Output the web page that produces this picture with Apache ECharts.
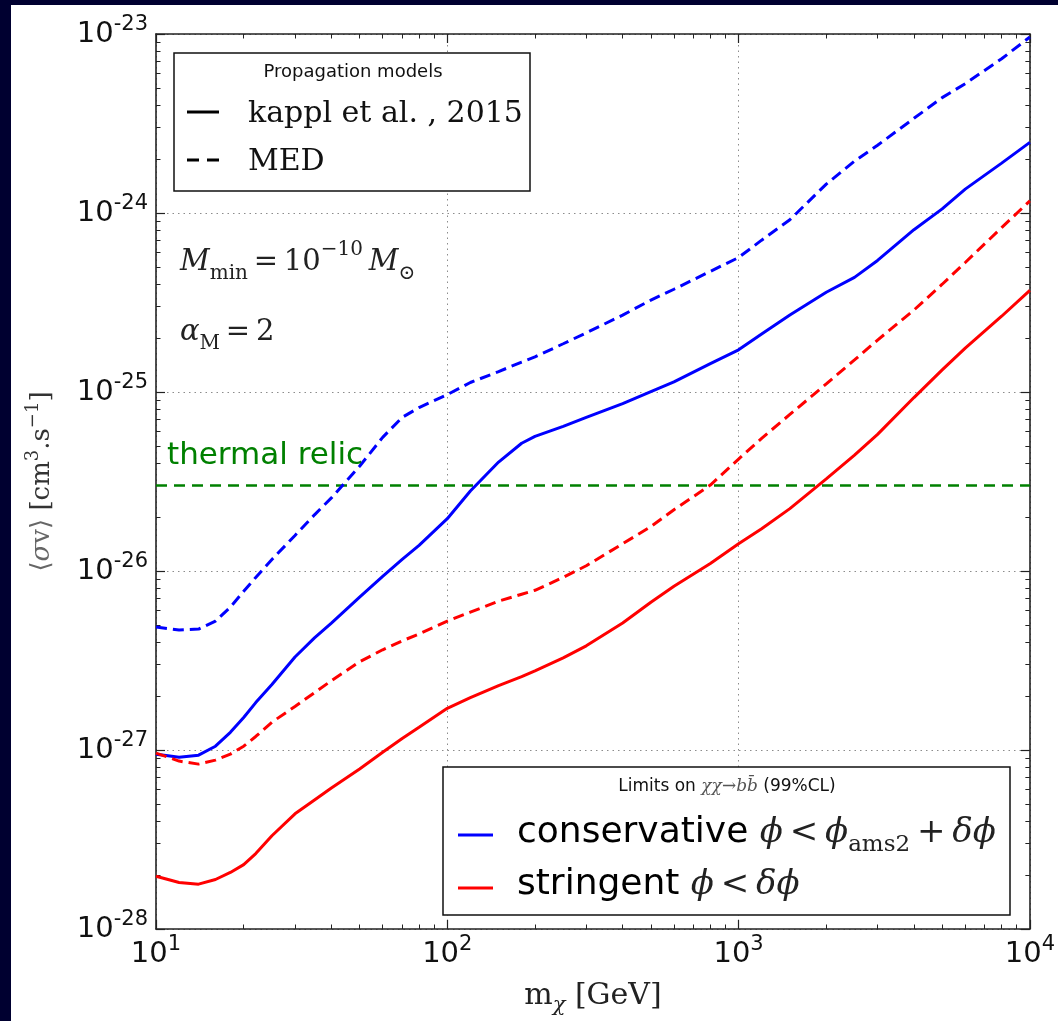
<!DOCTYPE html>
<html>
<head>
<meta charset="utf-8">
<script src="https://cdn.jsdelivr.net/npm/echarts@6/dist/echarts.min.js"></script>
<style>
  html, body { margin: 0; padding: 0; width: 1058px; height: 1021px; overflow: hidden; background: #000030; }
  #chart { position: absolute; left: 11px; top: 5px; width: 1047px; height: 1016px; background: #ffffff; }
</style>
</head>
<body>
<div id="chart"></div>
<script>
// Dark-matter mass grid (GeV)
const masses = [10, 11, 12, 14, 16, 18, 20, 22, 25, 30, 35, 40, 50, 60, 70, 80, 100, 120, 150, 180, 200,
  250, 300, 400, 500, 600, 800, 1000, 1200, 1500, 2000, 2500, 3000, 4000, 5000, 6000, 8000, 10000];

// <σv> upper limits (cm^3 s^-1), chi chi -> b bbar, 99% CL
const conservativeKappl = [9.48e-28, 9.30e-28, 9.12e-28, 9.36e-28, 1.05e-27, 1.255e-27, 1.52e-27, 1.84e-27,
  2.32e-27, 3.31e-27, 4.23e-27, 5.12e-27, 7.14e-27, 9.33e-27, 1.16e-26, 1.39e-26, 1.96e-26, 2.80e-26,
  4.06e-26, 5.17e-26, 5.65e-26, 6.43e-26, 7.21e-26, 8.62e-26, 1.005e-25, 1.14e-25, 1.44e-25, 1.72e-25,
  2.11e-25, 2.69e-25, 3.61e-25, 4.37e-25, 5.43e-25, 8.07e-25, 1.055e-24, 1.36e-24, 1.90e-24, 2.48e-24];

const conservativeMED = [4.86e-27, 4.77e-27, 4.68e-27, 4.74e-27, 5.25e-27, 6.28e-27, 7.70e-27, 9.21e-27,
  1.16e-26, 1.58e-26, 2.06e-26, 2.56e-26, 3.85e-26, 5.58e-26, 7.21e-26, 8.19e-26, 9.67e-26, 1.13e-25,
  1.30e-25, 1.47e-25, 1.57e-25, 1.86e-25, 2.14e-25, 2.69e-25, 3.26e-25, 3.75e-25, 4.72e-25, 5.64e-25,
  7.05e-25, 9.17e-25, 1.45e-24, 1.95e-24, 2.39e-24, 3.38e-24, 4.41e-24, 5.28e-24, 7.27e-24, 9.62e-24];

const stringentKappl = [1.97e-28, 1.89e-28, 1.82e-28, 1.78e-28, 1.89e-28, 2.07e-28, 2.29e-28, 2.64e-28,
  3.32e-28, 4.40e-28, 5.26e-28, 6.14e-28, 7.83e-28, 9.72e-28, 1.16e-27, 1.34e-27, 1.71e-27, 1.96e-27,
  2.29e-27, 2.57e-27, 2.77e-27, 3.27e-27, 3.82e-27, 5.12e-27, 6.69e-27, 8.21e-27, 1.10e-26, 1.42e-26,
  1.72e-26, 2.23e-26, 3.27e-26, 4.44e-26, 5.80e-26, 9.31e-26, 1.33e-25, 1.76e-25, 2.65e-25, 3.70e-25];

const stringentMED = [9.60e-28, 9.12e-28, 8.67e-28, 8.34e-28, 8.78e-28, 9.48e-28, 1.05e-27, 1.19e-27,
  1.43e-27, 1.75e-27, 2.09e-27, 2.44e-27, 3.11e-27, 3.63e-27, 4.07e-27, 4.45e-27, 5.25e-27, 5.89e-27,
  6.78e-27, 7.42e-27, 7.80e-27, 9.21e-27, 1.07e-26, 1.42e-26, 1.77e-26, 2.20e-26, 3.02e-26, 4.22e-26,
  5.51e-26, 7.49e-26, 1.11e-25, 1.51e-25, 1.95e-25, 2.87e-25, 4.00e-25, 5.29e-25, 8.28e-25, 1.17e-24];

// Thermal relic cross-section
const thermalMass = [10, 10000];
const thermalRelic = [3e-26, 3e-26];

// The y axis works in units of 1e-28 cm^3 s^-1 (the log scale rounds tick
// values to 10 decimals, so raw 1e-28 ticks would collapse to zero).
const yUnitExp = -28;
const yUnit = 1e-28;

// Axis ticks (x in GeV, y as powers of ten of cm^3 s^-1)
const xTickValues = [10, 100, 1000, 10000];
const yTickExponents = [-28, -27, -26, -25, -24, -23];
const minorMultipliers = [2, 3, 4, 5, 6, 7, 8, 9];
const xDecades = [1, 2, 3];
const yDecades = [-28, -27, -26, -25, -24];

const yTickValues = yTickExponents.map(e => Math.pow(10, e - yUnitExp));
const xMinorTicks = [];
xDecades.forEach(d => minorMultipliers.forEach(k => xMinorTicks.push(k * Math.pow(10, d))));
const yMinorTicks = [];
yDecades.forEach(d => minorMultipliers.forEach(k => yMinorTicks.push(k * Math.pow(10, d - yUnitExp))));

const serif = '"DejaVu Serif", "Liberation Serif", serif';
const sans = '"DejaVu Sans", sans-serif';
const ink = '#111111';
const frame = '#222222';
const thin = '\u2009';

function pairs(values) { return masses.map((m, i) => [m, values[i] / yUnit]); }

function expText(e) { return '{b|10}{e|' + (e < 0 ? '-' + (-e) : String(e)) + '}'; }
const xLabel = v => expText(Math.round(Math.log10(v)));
const yLabel = v => expText(Math.round(Math.log10(v)) + yUnitExp);

const tickRich = {
  b: { fontFamily: sans, fontSize: 29, color: ink, lineHeight: 40 },
  e: { fontFamily: sans, fontSize: 21, color: ink, lineHeight: 22, verticalAlign: 'top' }
};

function logAxis(base, extra) {
  return Object.assign({
    type: 'log', logBase: 10,
    axisLine: { show: false, onZero: false },
    axisTick: { show: false },
    axisLabel: { show: false },
    splitLine: { show: false }
  }, base, extra);
}

const xRange = { min: 10, max: 10000 };
const yRange = { min: 1, max: 1e5 };

const majorTick = (vals) => ({ show: true, inside: true, length: 9, customValues: vals, lineStyle: { color: frame, width: 1.2 } });
const minorTick = (vals) => ({ show: true, inside: true, length: 4.5, customValues: vals, lineStyle: { color: frame, width: 1 } });
const frameLine = { show: true, onZero: false, lineStyle: { color: frame, width: 1.6 } };
const gridDots = { show: true, lineStyle: { color: '#8c8c8c', width: 1, type: [1.5, 4] } };

const mathRich = {
  m: { fontFamily: serif, fontSize: 29, fill: '#222', lineHeight: 44 },
  mi: { fontFamily: serif, fontStyle: 'italic', fontSize: 29, fill: '#222', lineHeight: 44 },
  sub: { fontFamily: serif, fontSize: 20, fill: '#222', lineHeight: 30, verticalAlign: 'bottom' },
  sup: { fontFamily: serif, fontSize: 20, fill: '#222', lineHeight: 26, verticalAlign: 'top' }
};

const legendRich = {
  s: { fontFamily: sans, fontSize: 36, fill: '#000', lineHeight: 48 },
  m: { fontFamily: serif, fontSize: 34, fill: '#222', lineHeight: 48 },
  mi: { fontFamily: serif, fontStyle: 'italic', fontSize: 34, fill: '#222', lineHeight: 48 },
  sub: { fontFamily: serif, fontSize: 23, fill: '#222', lineHeight: 34, verticalAlign: 'bottom' }
};

const option = {
  animation: false,
  backgroundColor: '#ffffff',
  grid: { left: 145, top: 29, right: 28, bottom: 86, containLabel: false },
  xAxis: [
    logAxis(xRange, {
      position: 'bottom',
      axisLine: frameLine,
      axisTick: majorTick(xTickValues),
      axisLabel: { show: true, margin: 5, formatter: xLabel, rich: tickRich, customValues: xTickValues, showMinLabel: true, showMaxLabel: true },
      splitLine: gridDots,
      name: '{r|m}{s|χ}{r| [GeV]}',
      nameLocation: 'middle',
      nameGap: 47,
      nameTextStyle: {
        rich: {
          r: { fontFamily: serif, fontSize: 30, color: '#222', lineHeight: 40 },
          s: { fontFamily: serif, fontStyle: 'italic', fontSize: 21, color: '#222', lineHeight: 24, verticalAlign: 'bottom' }
        }
      }
    }),
    logAxis(xRange, { position: 'bottom', axisTick: minorTick(xMinorTicks) }),
    logAxis(xRange, { position: 'top', axisLine: frameLine, axisTick: majorTick(xTickValues) }),
    logAxis(xRange, { position: 'top', axisTick: minorTick(xMinorTicks) })
  ],
  yAxis: [
    logAxis(yRange, {
      position: 'left',
      axisLine: frameLine,
      axisTick: majorTick(yTickValues),
      axisLabel: { show: true, margin: 8, formatter: yLabel, rich: tickRich, customValues: yTickValues, showMinLabel: true, showMaxLabel: true },
      splitLine: gridDots,
      name: '{g|⟨}{gi|σ}{g|v⟩}{r| [cm}{p|3}{r|.s}{p|−1}{r|]}',
      nameLocation: 'middle',
      nameGap: 96,
      nameTextStyle: {
        rich: {
          g: { fontFamily: serif, fontSize: 26, color: '#666', lineHeight: 36 },
          gi: { fontFamily: serif, fontStyle: 'italic', fontSize: 26, color: '#666', lineHeight: 36 },
          r: { fontFamily: serif, fontSize: 26, color: '#333', lineHeight: 36 },
          p: { fontFamily: serif, fontSize: 18, color: '#333', lineHeight: 20, verticalAlign: 'top' }
        }
      }
    }),
    logAxis(yRange, { position: 'left', axisTick: minorTick(yMinorTicks) }),
    logAxis(yRange, { position: 'right', axisLine: frameLine, axisTick: majorTick(yTickValues) }),
    logAxis(yRange, { position: 'right', axisTick: minorTick(yMinorTicks) })
  ],
  series: [
    {
      name: 'thermal relic', type: 'line', symbol: 'none', z: 2,
      data: thermalMass.map((m, i) => [m, thermalRelic[i] / yUnit]),
      lineStyle: { color: '#008000', width: 2.5, type: [11, 7] }
    },
    {
      name: 'conservative MED', type: 'line', symbol: 'none', z: 3,
      data: pairs(conservativeMED),
      lineStyle: { color: '#0000ff', width: 3, type: [11, 6] }
    },
    {
      name: 'conservative kappl', type: 'line', symbol: 'none', z: 3,
      data: pairs(conservativeKappl),
      lineStyle: { color: '#0000ff', width: 3 }
    },
    {
      name: 'stringent MED', type: 'line', symbol: 'none', z: 3,
      data: pairs(stringentMED),
      lineStyle: { color: '#ff0000', width: 3, type: [11, 6] }
    },
    {
      name: 'stringent kappl', type: 'line', symbol: 'none', z: 3,
      data: pairs(stringentKappl),
      lineStyle: { color: '#ff0000', width: 3 }
    }
  ],
  graphic: [
    // Propagation-model legend
    { type: 'rect', z: 100, shape: { x: 163, y: 48, width: 356, height: 138 }, style: { fill: '#fff', stroke: '#111', lineWidth: 1.5 } },
    { type: 'text', z: 101, x: 342, y: 67, style: { text: 'Propagation models', font: '18px ' + sans, fill: ink, align: 'center', verticalAlign: 'middle' } },
    { type: 'line', z: 101, shape: { x1: 176, y1: 107, x2: 208, y2: 107 }, style: { stroke: '#000', lineWidth: 3 } },
    { type: 'text', z: 101, x: 237, y: 109, style: { text: 'kappl et al. , 2015', font: '30px ' + serif, fill: ink, verticalAlign: 'middle' } },
    { type: 'line', z: 101, shape: { x1: 176, y1: 155, x2: 208, y2: 155 }, style: { stroke: '#000', lineWidth: 3, lineDash: [12, 8] } },
    { type: 'text', z: 101, x: 237, y: 157, style: { text: 'MED', font: '30px ' + serif, fill: ink, verticalAlign: 'middle' } },

    // Halo parameters
    { type: 'text', z: 101, x: 169, y: 257, style: {
      text: '{mi|M}{sub|min}{m|' + thin + '=' + thin + '10}{sup|−10}{m|' + thin + '}{mi|M}{sub|⊙}',
      verticalAlign: 'middle', rich: mathRich } },
    { type: 'text', z: 101, x: 169, y: 327, style: {
      text: '{mi|α}{sub|M}{m|' + thin + '=' + thin + '2}',
      verticalAlign: 'middle', rich: mathRich } },

    // Thermal relic annotation
    { type: 'text', z: 101, x: 156, y: 451, style: { text: 'thermal relic', font: '31px ' + sans, fill: '#008000', verticalAlign: 'middle' } },

    // Limits legend
    { type: 'rect', z: 100, shape: { x: 432, y: 762, width: 567, height: 148 }, style: { fill: '#fff', stroke: '#111', lineWidth: 1.5 } },
    { type: 'text', z: 101, x: 716, y: 782, style: {
      text: '{t|Limits on }{m|χχ→bb̄}{t| (99%CL)}', align: 'center', verticalAlign: 'middle',
      rich: {
        t: { fontFamily: sans, fontSize: 17, fill: ink },
        m: { fontFamily: serif, fontStyle: 'italic', fontSize: 17, fill: '#555' }
      } } },
    { type: 'line', z: 101, shape: { x1: 447, y1: 830, x2: 482, y2: 830 }, style: { stroke: '#0000ff', lineWidth: 3 } },
    { type: 'text', z: 101, x: 506, y: 828, style: {
      text: '{s|conservative }{mi|ϕ}{m|' + thin + '<' + thin + '}{mi|ϕ}{sub|ams2}{m|' + thin + '+' + thin + '}{mi|δϕ}',
      verticalAlign: 'middle', rich: legendRich } },
    { type: 'line', z: 101, shape: { x1: 447, y1: 883, x2: 482, y2: 883 }, style: { stroke: '#ff0000', lineWidth: 3 } },
    { type: 'text', z: 101, x: 506, y: 880, style: {
      text: '{s|stringent }{mi|ϕ}{m|' + thin + '<' + thin + '}{mi|δϕ}',
      verticalAlign: 'middle', rich: legendRich } }
  ]
};

const chart = echarts.init(document.getElementById('chart'));
chart.setOption(option);
</script>
</body>
</html>
